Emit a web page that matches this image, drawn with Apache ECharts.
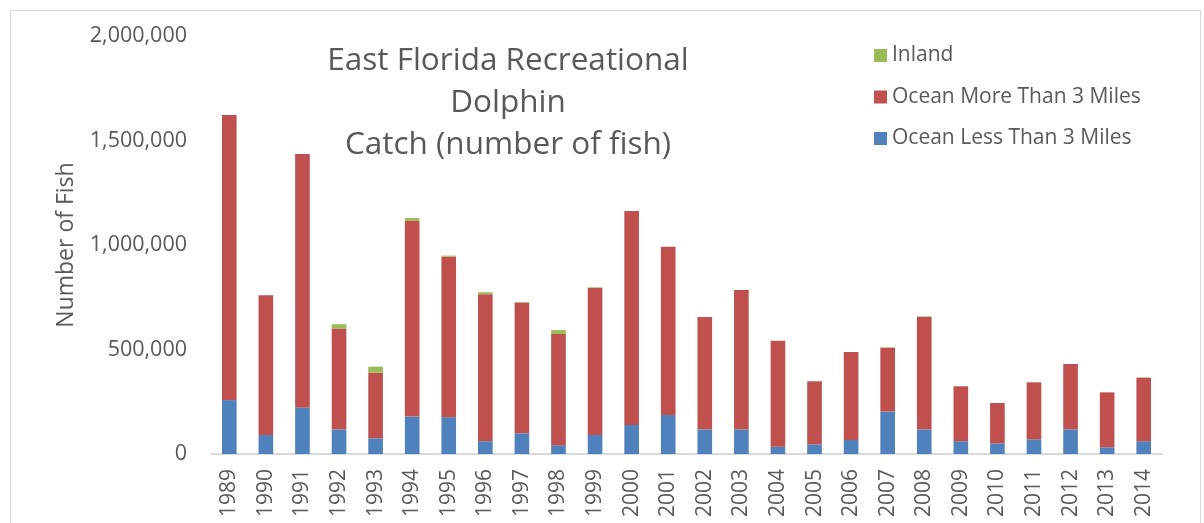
<!DOCTYPE html>
<html>
<head>
<meta charset="utf-8">
<title>East Florida Recreational Dolphin Catch</title>
<script src="https://cdn.jsdelivr.net/npm/echarts@6/dist/echarts.min.js"></script>
<style>
  html, body { margin: 0; padding: 0; background: #fff; }
  #chart { width: 1204px; height: 523px; }
</style>
</head>
<body>
<div id="chart"></div>
<script>
  // years on the x axis
  var years = ['1989', '1990', '1991', '1992', '1993', '1994', '1995', '1996', '1997', '1998',
    '1999', '2000', '2001', '2002', '2003', '2004', '2005', '2006', '2007', '2008',
    '2009', '2010', '2011', '2012', '2013', '2014'];

  // catch by area (number of fish)
  var oceanLess = [258000, 91000, 223000, 118000, 75000, 179000, 176000, 61000, 99000, 42000,
    91000, 139000, 187000, 118000, 118000, 35000, 46000, 67000, 203000, 118000,
    61000, 51000, 70000, 118000, 32000, 61000];
  var oceanMore = [1364000, 668000, 1212000, 482000, 314000, 937000, 768000, 703000, 626000, 532000,
    705000, 1024000, 805000, 538000, 667000, 507000, 302000, 421000, 305000, 539000,
    263000, 193000, 273000, 313000, 263000, 304000];
  var inland = [0, 0, 0, 21000, 29000, 13000, 5000, 10000, 2000, 19000,
    2000, 0, 0, 0, 0, 0, 0, 0, 2000, 2000,
    0, 0, 0, 0, 0, 2000];

  var yTicks = [0, 500000, 1000000, 1500000, 2000000];

  var textColor = '#595959';
  var font = 'Open Sans';

  var chart = echarts.init(document.getElementById('chart'));

  var option = {
    animation: false,
    color: ['#4F81BD', '#C0504D', '#9BBB59'],
    textStyle: { fontFamily: font, color: textColor },
    title: {
      text: 'East Florida Recreational\nDolphin\nCatch (number of fish)',
      left: 508,
      top: 40,
      padding: 0,
      textAlign: 'center',
      textStyle: {
        fontFamily: font,
        fontSize: 31.5,
        fontWeight: 'normal',
        lineHeight: 42,
        color: textColor
      }
    },
    legend: {
      orient: 'vertical',
      left: 874,
      top: 45,
      padding: 0,
      itemWidth: 13,
      itemHeight: 13,
      itemGap: 20.5,
      icon: 'rect',
      data: ['Inland', 'Ocean More Than 3 Miles', 'Ocean Less Than 3 Miles'],
      textStyle: { fontFamily: font, fontSize: 21, lineHeight: 20, color: textColor }
    },
    graphic: [{
      type: 'rect',
      shape: { x: 10.5, y: 10.5, width: 1190, height: 530 },
      style: { fill: 'none', stroke: '#D9D9D9', lineWidth: 1 },
      silent: true
    }],
    grid: { left: 211, right: 42, top: 36, bottom: 69 },
    xAxis: {
      type: 'category',
      data: years,
      axisLine: { lineStyle: { color: '#D9D9D9', width: 2 } },
      axisTick: { show: false },
      axisLabel: {
        rotate: 90,
        margin: 15,
        fontFamily: font,
        fontSize: 21,
        color: textColor
      }
    },
    yAxis: {
      type: 'value',
      min: yTicks[0],
      max: yTicks[yTicks.length - 1],
      interval: yTicks[1] - yTicks[0],
      name: 'Number of Fish',
      nameLocation: 'middle',
      nameGap: 133,
      nameTextStyle: { fontFamily: font, fontSize: 23, color: textColor },
      axisLine: { show: false },
      axisTick: { show: false },
      splitLine: { show: false },
      axisLabel: {
        margin: 24,
        fontFamily: font,
        fontSize: 21.5,
        color: textColor,
        formatter: function (v) { return v.toLocaleString('en-US'); }
      }
    },
    series: [
      {
        name: 'Ocean Less Than 3 Miles',
        type: 'bar',
        stack: 'catch',
        barWidth: '40%',
        data: oceanLess
      },
      {
        name: 'Ocean More Than 3 Miles',
        type: 'bar',
        stack: 'catch',
        barWidth: '40%',
        data: oceanMore
      },
      {
        name: 'Inland',
        type: 'bar',
        stack: 'catch',
        barWidth: '40%',
        data: inland
      }
    ]
  };

  chart.setOption(option);
</script>
</body>
</html>
